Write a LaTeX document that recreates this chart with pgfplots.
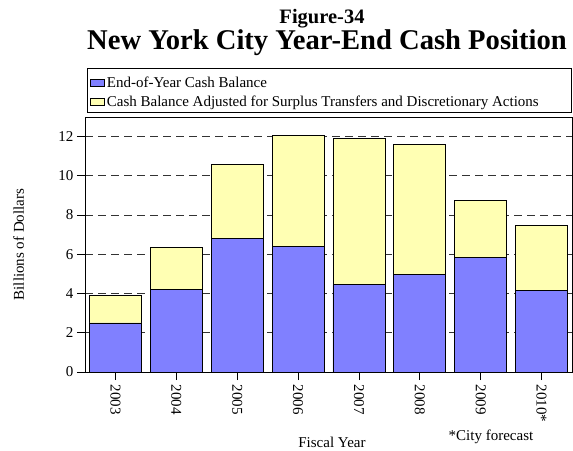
\documentclass[border=0pt]{standalone}
\usepackage{pgfplots}
\pgfplotsset{compat=1.18}
\usepackage{fontspec}
\setmainfont{Liberation Serif}
\definecolor{cbBlue}{RGB}{128,128,255}
\definecolor{cbYellow}{RGB}{255,255,179}
\begin{document}
\begin{tikzpicture}[x=1pt,y=1pt]
\useasboundingbox (0,0) rectangle (573,450);
\begin{axis}[
  at={(85pt,78pt)}, anchor=south west,
  scale only axis, width=487pt, height=255pt,
  ybar stacked, bar width=52pt, bar shift=0pt,
  xmin=-0.5, xmax=7.5, ymin=0, ymax=13,
  xtick={0,1,2,3,4,5,6,7},
  xticklabels={2003,2004,2005,2006,2007,2008,2009,2010*},
  ytick={0,2,4,6,8,10,12},
  ymajorgrids, grid style={black!80, dash pattern=on 8pt off 5pt, line width=0.8pt},
  tick align=outside, major tick length=8pt,
  xtick pos=bottom, ytick pos=left,
  tick style={black, line width=0.8pt},
  axis line style={line width=0.8pt},
  ticklabel style={font=\fontsize{15}{18}\selectfont},
  /pgf/number format/assume math mode=true,
  x tick label style={rotate=-90, anchor=west, xshift=1pt},
  ylabel={Billions of Dollars},
  ylabel style={font=\fontsize{15}{18}\selectfont, at={(axis description cs:-0.118,0.5)}},
  legend style={draw=none, fill=none, at={(axis description cs:0.008,1.0)}, anchor=south west,
    yshift=6pt, font=\fontsize{15}{18}\selectfont, row sep=3pt, inner sep=1pt},
  legend cell align=left,
  legend image code/.code={\draw[#1] (0pt,-3.5pt) rectangle (14pt,3.5pt);},
  axis on top=false,
]
\addplot+[fill=cbBlue, draw=black, line width=0.8pt] coordinates
  {(0,2.5) (1,4.2) (2,6.82) (3,6.38) (4,4.45) (5,4.97) (6,5.82) (7,4.17)};
\addlegendentry{End-of-Year Cash Balance}
\addplot+[fill=cbYellow, draw=black, line width=0.8pt] coordinates
  {(0,1.4) (1,2.13) (2,3.74) (3,5.66) (4,7.44) (5,6.65) (6,2.94) (7,3.28)};
\addlegendentry{Cash Balance Adjusted for Surplus Transfers and Discretionary Actions}
\end{axis}
\draw[line width=0.8pt] (87,338) rectangle (571,382);
\node[font=\fontsize{20.5}{24}\bfseries\selectfont] at (322,431) {Figure-34};
\node[font=\fontsize{28.6}{32}\bfseries\selectfont] at (327,407) {New York City Year-End Cash Position};
\node[font=\fontsize{15}{18}\selectfont] at (491,13) {*City forecast};
\node[font=\fontsize{15}{18}\selectfont] at (332,8) {Fiscal Year};
\end{tikzpicture}
\end{document}
